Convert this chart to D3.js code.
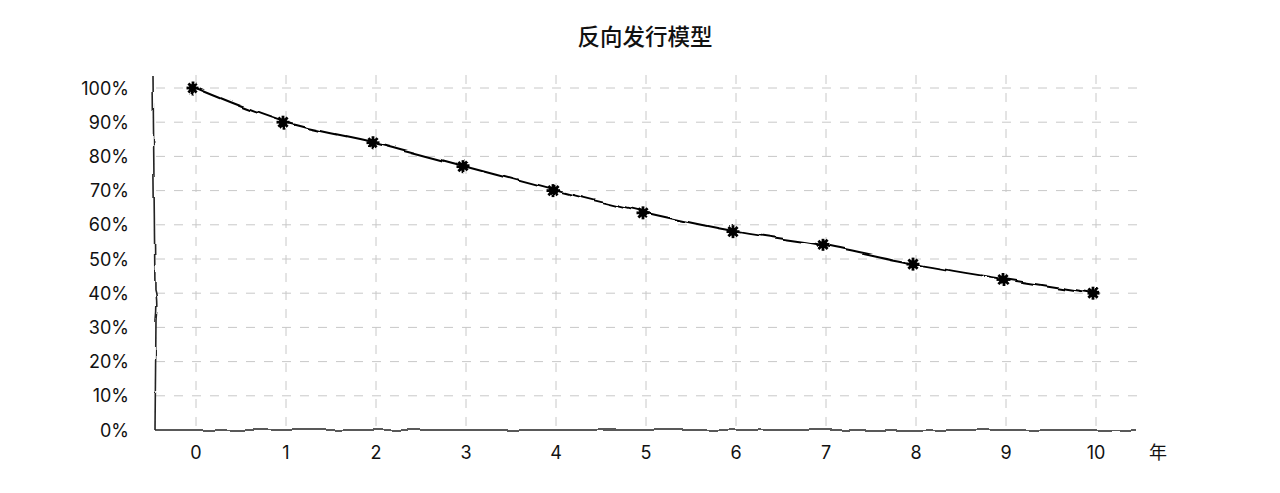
<!DOCTYPE html>
<html><head><meta charset="utf-8">
<script src="https://cdn.jsdelivr.net/npm/d3@7"></script>
<style>
html,body{margin:0;padding:0;background:#fff;}
svg text{font-family:"Inter","Noto Sans CJK SC","Noto Sans",sans-serif;fill:#111;}
svg text.cjk{font-family:"Noto Sans CJK SC",sans-serif;}
</style></head>
<body>
<svg id="c" width="1280" height="493"></svg>
<script>
const title = "反向发行模型";
const years = [0,1,2,3,4,5,6,7,8,9,10];
const remaining = [1.00,0.90,0.84,0.77,0.70,0.635,0.58,0.54,0.485,0.44,0.40];
const yTicks = [0,0.1,0.2,0.3,0.4,0.5,0.6,0.7,0.8,0.9,1.0];
const xUnit = "年";

const svg = d3.select("#c");
const defs = svg.append("defs");
function mkFilter(id, freq, scale){
  const f = defs.append("filter").attr("id",id).attr("filterUnits","userSpaceOnUse")
    .attr("x",-5).attr("y",-5).attr("width","100%").attr("height","100%");
  f.append("feTurbulence").attr("type","fractalNoise").attr("baseFrequency",freq).attr("result","noise");
  f.append("feDisplacementMap").attr("scale",scale).attr("xChannelSelector","R").attr("yChannelSelector","G").attr("in","SourceGraphic").attr("in2","noise");
}
mkFilter("xkcd",0.05,4);
mkFilter("xkcdL",0.04,6);

const x = d3.scaleLinear().domain([0,10]).range([196,1096]);
const y = d3.scaleLinear().domain([0,1]).range([430,88]);

// title
svg.append("text").attr("class","cjk").attr("x",645).attr("y",45).attr("text-anchor","middle")
  .style("font-size","22.5px").style("font-weight","500").text(title);

// grid
const grid = svg.append("g");
grid.selectAll("line.h").data(yTicks.slice(1)).join("line")
  .attr("x1",156).attr("x2",1145).attr("y1",d=>y(d)).attr("y2",d=>y(d))
  .attr("stroke","#c8c8c8").attr("stroke-width",1).attr("stroke-dasharray","9,9");
grid.selectAll("line.v").data(years).join("line")
  .attr("x1",d=>x(d)).attr("x2",d=>x(d)).attr("y1",75).attr("y2",430)
  .attr("stroke","#c8c8c8").attr("stroke-width",1).attr("stroke-dasharray","9,9");

// axes
const axes = svg.append("g").attr("filter","url(#xkcd)");
axes.append("path").attr("d","M153,75 L155,290 Q158,300 156,320 L155,430")
  .attr("fill","none").attr("stroke","#222").attr("stroke-width",1.6);
axes.append("line").attr("x1",155).attr("y1",430).attr("x2",1136).attr("y2",430)
  .attr("stroke","#222").attr("stroke-width",1.6);

// y labels
svg.selectAll("text.yl").data(yTicks).join("text")
  .attr("x",129).attr("y",d=>y(d)+6.5).attr("text-anchor","end")
  .style("font-size","18px").text(d=>Math.round(d*100)+"%");
// x labels
svg.selectAll("text.xl").data(years).join("text")
  .attr("x",d=>x(d)).attr("y",458.5).attr("text-anchor","middle")
  .style("font-size","18px").text(d=>d);
svg.append("text").attr("class","cjk").attr("x",1158).attr("y",458.5).attr("text-anchor","middle")
  .style("font-size","18px").text(xUnit);

// line
const pts = years.map((d,i)=>[d,remaining[i]]);
const line = d3.line().x(d=>x(d[0])).y(d=>y(d[1])).curve(d3.curveMonotoneX);
const lg = svg.append("g").attr("filter","url(#xkcdL)");
lg.append("path").attr("d",line(pts)).attr("fill","none").attr("stroke","#000").attr("stroke-width",2);

// markers (asterisk-like)
const mg = svg.append("g").attr("filter","url(#xkcd)");
const mk = mg.selectAll("g.m").data(pts).join("g")
  .attr("transform",d=>`translate(${x(d[0])-3},${y(d[1])})`);
mk.append("circle").attr("r",4).attr("fill","#000");
[0,45,90,135].forEach(a=>{
  mk.append("line").attr("x1",-6.5).attr("x2",6.5).attr("y1",0).attr("y2",0)
    .attr("transform",`rotate(${a})`).attr("stroke","#000").attr("stroke-width",2.8);
});
</script>
</body></html>
